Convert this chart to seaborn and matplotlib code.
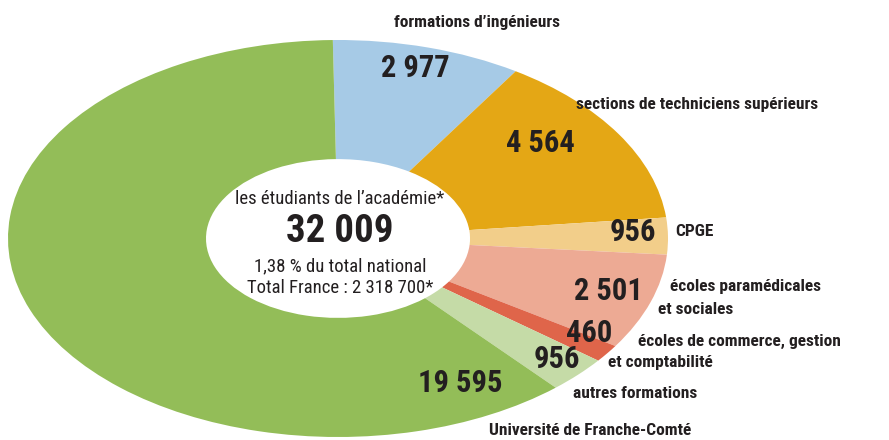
import matplotlib
matplotlib.use("Agg")
import matplotlib.pyplot as plt
import seaborn as sns

# données : étudiants de l'académie par filière
filieres = [
    "formations d\u2019ingénieurs",
    "sections de techniciens supérieurs",
    "CPGE",
    "écoles paramédicales\net sociales",
    "écoles de commerce, gestion\net comptabilité",
    "autres formations",
    "Université de Franche-Comté",
]
effectifs = [2977, 4564, 956, 2501, 460, 956, 19595]
couleurs = ["#a6cae6", "#e4a715", "#f2ce8a", "#edaa94", "#df654a", "#c5dba7", "#93bd58"]
total_academie = "32 009"
lignes_centre = ["les étudiants de l\u2019académie*", "1,38 % du total national",
                 "Total France : 2 318 700*"]

sns.set_style("white")
plt.rcParams["font.family"] = ["Roboto Condensed", "DejaVu Sans"]

W, H = 889, 440
fig = plt.figure(figsize=(W / 100, H / 100), dpi=100)
fig.patch.set_facecolor("white")


def px(x, y):
    return x / W, 1 - y / H


# axe de l'anneau (ellipse écrasée)
ax = fig.add_axes([8 / W, 3 / H, 660 / W, 397 / H])
ax.pie(effectifs, colors=couleurs, startangle=90.9, counterclock=False,
       wedgeprops=dict(width=0.6, linewidth=0))
ax.set_aspect("auto")
ax.set_xlim(-1, 1)
ax.set_ylim(-1, 1)
ax.axis("off")

sombre = "#231f20"


def fmt(v):
    return f"{v:,}".replace(",", " ")


# chiffres dans les secteurs
pos_chiffres = [(415, 68), (540, 143), (633, 232), (608, 291), (589, 333), (557, 359), (460, 383)]
for v, (x, y) in zip(effectifs, pos_chiffres):
    fig.text(*px(x, y), fmt(v), ha="center", va="center", fontsize=22,
             fontweight="bold", color=sombre)

# libellés des filières
pos_libelles = [
    (477, 22, "center"),
    (576, 104, "left"),
    (675, 232, "left"),
    (670, 298, "left"),
    (638, 352, "left"),
    (573, 393, "left"),
    (489, 430, "left"),
]
for nom, (x, y, ha) in zip(filieres, pos_libelles):
    if "\n" in nom:
        l1, l2 = nom.split("\n")
        fig.text(*px(x, y - 11), l1, ha=ha, va="center", fontsize=12.5,
                 fontweight="bold", color=sombre)
        dx = -12 if "sociales" in l2 else -30
        fig.text(*px(x + dx, y + 11), l2, ha=ha, va="center", fontsize=12.5,
                 fontweight="bold", color=sombre)
    else:
        fig.text(*px(x, y), nom, ha=ha, va="center", fontsize=12.5,
                 fontweight="bold", color=sombre)

# texte central
fig.text(*px(340, 199), lignes_centre[0], ha="center", va="center", fontsize=13.5, color=sombre)
fig.text(*px(340, 232), total_academie, ha="center", va="center", fontsize=28,
         fontweight="bold", color=sombre)
fig.text(*px(340, 266), lignes_centre[1], ha="center", va="center", fontsize=13.5, color=sombre)
fig.text(*px(340, 288), lignes_centre[2], ha="center", va="center", fontsize=13.5, color=sombre)

fig.savefig("out.png", dpi=100, facecolor="white")
